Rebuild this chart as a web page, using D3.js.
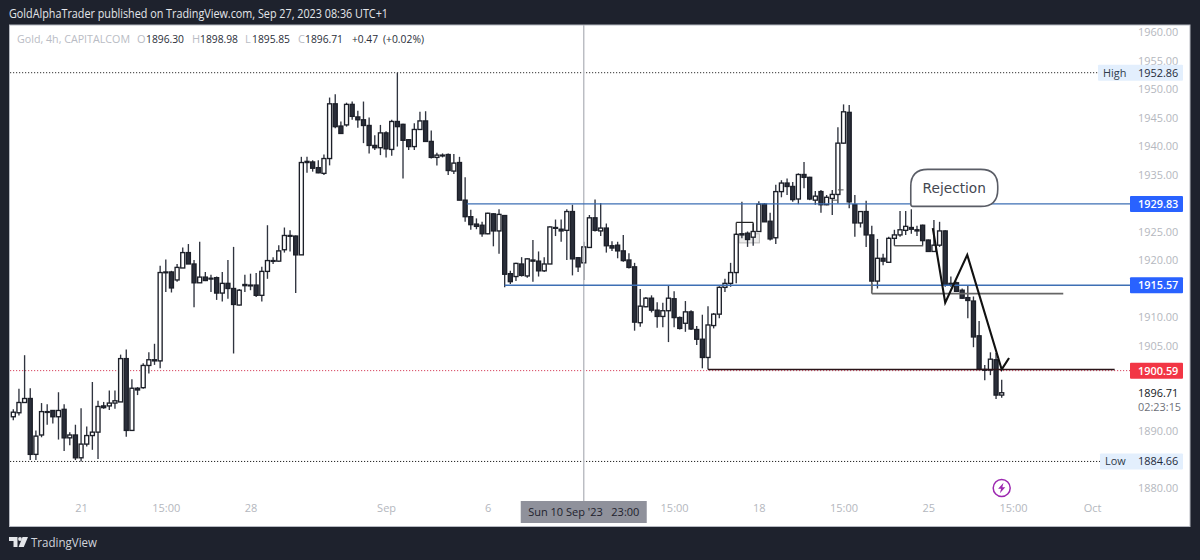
<!DOCTYPE html>
<html><head><meta charset="utf-8">
<script src="https://cdn.jsdelivr.net/npm/d3@7/dist/d3.min.js"></script>
<style>html,body{margin:0;padding:0;background:#1e222d;overflow:hidden}svg{display:block}text{font-family:"Open Sans",sans-serif}</style>
</head><body><svg id="c" width="1200" height="560"></svg>
<script>
const opens=[1892.5,1893.2,1895.0,1895.7,1885.9,1889.3,1893.4,1893.6,1892.5,1893.8,
1888.8,1889.3,1885.3,1887.7,1889.2,1889.8,1894.4,1894.4,1894.9,1895.1,
1902.7,1890.1,1897.5,1897.6,1901.5,1902.5,1902.3,1917.9,1917.9,1916.5,
1918.6,1921.3,1919.3,1916.0,1917.0,1916.8,1916.9,1914.2,1915.9,1915.0,
1912.1,1915.7,1915.6,1915.6,1913.8,1918.0,1919.9,1919.8,1921.8,1924.3,
1924.2,1920.9,1937.3,1937.2,1936.2,1935.2,1937.8,1947.4,1943.5,1943.7,
1947.3,1945.1,1944.6,1943.6,1940.1,1939.7,1942.3,1939.4,1944.3,1943.8,
1941.1,1939.9,1942.9,1944.4,1940.8,1938.0,1938.4,1938.5,1935.6,1937.1,
1930.5,1927.6,1926.3,1926.1,1924.6,1928.1,1925.1,1927.8,1917.6,1917.1,
1919.3,1917.2,1920.0,1919.8,1918.1,1919.3,1925.7,1925.4,1925.2,1928.5,
1920.4,1919.5,1922.2,1927.4,1925.1,1925.6,1922.5,1922.6,1921.6,1920.0,
1918.8,1909.0,1911.8,1913.3,1911.2,1910.1,1911.1,1913.2,1909.9,1908.9,
1910.9,1907.8,1906.1,1902.9,1908.5,1910.5,1915.2,1915.9,1917.8,1924.6,
1924.7,1924.0,1925.0,1929.8,1926.8,1923.9,1932.0,1933.5,1932.9,1930.7,
1935.0,1934.5,1930.5,1932.0,1929.7,1930.8,1931.5,1940.5,1945.9,1929.7,
1926.5,1928.5,1924.4,1916.3,1920.3,1919.6,1923.8,1924.4,1925.2,1925.7,
1925.3,1926.1,1923.5,1921.5,1922.6,1925.1,1915.9,1916.0,1914.7,1913.4,
1912.8,1906.7,1900.8,1900.7,1902.5,1896.30];
const closes=[1893.3,1895.0,1895.7,1885.9,1889.1,1893.4,1893.3,1892.5,1893.6,1888.8,
1889.3,1885.3,1887.7,1889.2,1889.8,1894.3,1894.1,1894.9,1895.3,1902.7,
1890.1,1897.5,1897.2,1901.5,1902.5,1902.3,1917.8,1917.8,1915.1,1918.7,
1921.3,1919.3,1916.0,1917.0,1916.4,1916.7,1914.2,1915.9,1915.0,1912.2,
1914.7,1915.5,1915.5,1913.8,1918.0,1919.9,1919.8,1921.6,1924.3,1924.2,
1920.9,1937.1,1937.1,1936.1,1935.3,1937.8,1947.4,1943.4,1942.2,1947.3,
1945.2,1944.6,1943.6,1940.1,1939.7,1942.3,1939.5,1944.3,1943.4,1941.0,
1939.9,1942.9,1944.4,1940.8,1938.0,1938.4,1938.3,1935.7,1937.0,1930.5,
1927.6,1926.2,1925.9,1924.6,1928.2,1925.1,1928.0,1917.5,1916.2,1919.4,
1917.3,1920.2,1919.8,1918.1,1919.3,1925.8,1925.6,1925.1,1928.5,1920.2,
1918.8,1922.3,1927.4,1925.2,1925.6,1922.5,1922.1,1921.6,1919.9,1918.7,
1909.1,1911.9,1913.3,1911.2,1910.1,1911.1,1913.3,1909.9,1908.0,1910.9,
1907.9,1906.1,1902.9,1908.6,1910.5,1915.2,1915.9,1917.8,1924.5,1924.4,
1923.6,1925.0,1929.8,1926.7,1923.7,1932.0,1933.5,1932.9,1930.6,1935.0,
1934.5,1930.7,1931.2,1929.7,1931.0,1931.5,1940.5,1946.0,1930.2,1926.5,
1928.5,1924.4,1916.3,1920.3,1919.8,1923.8,1924.4,1925.3,1925.9,1925.4,
1925.1,1923.4,1921.5,1922.6,1925.1,1915.6,1915.6,1914.5,1913.3,1912.9,
1906.5,1900.8,1900.7,1902.6,1896.3,1896.71];
const highs=[1893.8,1897.4,1903.3,1897.5,1890.1,1894.9,1894.7,1893.6,1896.8,1894.7,
1889.8,1891.1,1894.0,1890.8,1898.6,1895.3,1895.1,1897.1,1897.1,1903.4,
1904.3,1899.1,1897.7,1901.9,1903.8,1905.3,1919.0,1920.1,1918.1,1919.3,
1922.2,1922.8,1920.0,1923.2,1917.9,1917.4,1917.1,1917.9,1920.0,1922.3,
1914.9,1917.4,1917.6,1917.7,1918.8,1926.1,1920.5,1922.6,1925.7,1925.2,
1924.3,1938.1,1938.1,1937.5,1937.5,1938.5,1948.5,1949.1,1944.3,1947.6,
1947.8,1946.2,1947.8,1945.0,1941.9,1943.7,1942.6,1944.6,1952.86,1943.9,
1941.2,1944.0,1946.0,1946.1,1942.7,1938.8,1938.7,1938.7,1938.6,1938.1,
1934.5,1928.8,1927.3,1926.7,1928.3,1928.2,1928.9,1927.9,1918.1,1919.5,
1920.5,1920.3,1923.5,1921.5,1920.5,1925.9,1927.1,1927.1,1928.9,1929.7,
1920.5,1923.2,1927.9,1930.6,1930.0,1926.4,1923.3,1923.2,1924.4,1921.2,
1919.5,1914.9,1913.5,1913.8,1912.6,1912.5,1915.6,1914.5,1910.1,1912.8,
1911.2,1908.4,1910.4,1911.9,1910.7,1915.4,1916.7,1919.5,1924.7,1930.2,
1925.0,1926.4,1930.3,1930.0,1928.3,1933.2,1934.0,1934.3,1933.7,1935.2,
1937.2,1934.6,1932.1,1932.3,1931.4,1932.3,1943.3,1947.3,1947.2,1931.4,
1928.6,1930.4,1926.0,1923.7,1921.1,1924.1,1925.3,1928.6,1928.6,1928.9,
1926.0,1926.2,1923.6,1927.0,1926.7,1925.2,1917.1,1916.2,1915.0,1915.5,
1913.6,1909.3,1901.6,1903.8,1903.7,1898.98];
const lows=[1891.9,1892.7,1895.0,1884.9,1884.9,1888.9,1891.1,1891.3,1888.5,1886.5,
1887.5,1884.9,1884.66,1887.3,1886.7,1885.1,1893.9,1893.7,1893.9,1895.1,
1889.0,1890.1,1896.3,1897.4,1900.1,1901.6,1901.0,1914.4,1914.3,1916.2,
1918.6,1919.3,1911.7,1916.0,1916.3,1914.4,1913.0,1912.7,1913.2,1903.6,
1912.0,1914.4,1914.7,1913.5,1912.7,1916.7,1919.3,1919.7,1921.3,1921.5,
1914.2,1920.9,1935.3,1935.5,1935.2,1934.9,1936.6,1943.1,1942.1,1943.4,
1944.6,1943.2,1940.5,1938.7,1939.3,1938.4,1938.0,1938.3,1939.9,1934.3,
1939.3,1939.3,1942.9,1940.8,1937.8,1936.6,1938.0,1934.9,1935.1,1930.5,
1926.7,1925.3,1925.4,1924.1,1924.5,1922.4,1921.1,1915.2,1915.8,1916.3,
1917.1,1916.9,1916.2,1917.1,1917.9,1919.3,1924.2,1923.2,1920.0,1917.3,
1917.9,1916.5,1922.1,1925.0,1924.2,1921.3,1921.6,1920.3,1919.7,1918.5,
1907.6,1908.3,1911.7,1910.8,1908.1,1908.2,1905.6,1908.2,1907.8,1907.4,
1907.7,1905.1,1901.0,1900.8,1908.0,1909.8,1914.4,1915.3,1915.9,1923.8,
1922.3,1922.5,1925.0,1926.7,1923.4,1922.8,1931.0,1931.4,1930.2,1929.8,
1932.6,1930.5,1929.7,1928.3,1929.6,1927.9,1929.9,1940.4,1929.1,1924.1,
1925.7,1922.3,1914.7,1915.0,1919.1,1919.5,1922.5,1924.1,1924.4,1924.6,
1924.2,1922.6,1921.4,1921.4,1922.3,1915.3,1915.3,1914.4,1913.2,1909.8,
1904.7,1900.7,1898.9,1899.8,1895.6,1895.85];

const priceTicks=[1880,1890,1905,1910,1920,1925,1935,1940,1945,1950,1955,1960];
const timeTicks=[12,27,42,66,84,117,132,147,162,177,191];
const timeLabels=["21","15:00","28","Sep","6","15:00","18","15:00","25","15:00","Oct"];
const cursorIndex=101, cursorLabel="Sun 10 Sep '23   23:00";
const highPrice=1952.86, lowPrice=1884.66, redPrice=1900.59, lastPrice=1896.71;
const blueLines=[[80.3,1929.83],[87,1915.57]];
const zigzagIdx=[162.8,165,168.9,175,176.3], zigzagPrice=[1925.6,1912.5,1920.9,1900.8,1902.8];
const segments=[ // [i0,p0,i1,p1,colour,width]
 [123,1900.8,195,1900.8,"#2a1418",1.5],
 [152,1916.0,152,1914.1,"#666",1.7],
 [152,1914.1,185.9,1914.1,"#666",1.7],
 [156,1922.5,161.1,1922.5,"#555",1.4],
 [145,1930.5,146,1930.5,"#555",1.0],
 [146,1932.3,147,1932.3,"#555",1.0],
 [128,1924.5,128,1926.6,"#222",1.2],
 [128,1926.6,131,1926.6,"#222",1.2],
 [131,1926.6,131,1924.9,"#222",1.2]];

const svg=d3.select("#c");
const x=d3.scaleLinear().domain([0,175]).range([13.3,1001.7]);
const y=d3.scaleLinear().domain([1880,1960]).range([488,32]);
const AX=1130, AR=1183;

// frame
svg.append("rect").attr("x",9.5).attr("y",25).attr("width",1180.5).attr("height",501.5)
  .attr("fill","#fff").attr("stroke","#b6b9c1").attr("stroke-width",1);

// header
const hdr=(t,xp,yp,fill,size,len)=>{
  const n=svg.append("text").attr("x",xp).attr("y",yp).attr("fill",fill).attr("font-size",size).text(t);
  if(len) n.attr("textLength",len).attr("lengthAdjust","spacingAndGlyphs");
  return n;
};
hdr("GoldAlphaTrader published on TradingView.com, Sep 27, 2023 08:36 UTC+1",9,18,"#e4e6ea",11.8,379);
const G="#b9bcc4",K="#2a2e39";
hdr("Gold, 4h, CAPITALCOM",17,43,G,11,113);
[["O",137,G,0],["1896.30",146,K,38],["H",192,G,0],["1898.98",200,K,38],["L",245,G,0],["1895.85",252,K,38],["C",298,G,0],["1896.71",305,K,38],["+0.47",352,K,26],["(+0.02%)",383,K,41]]
 .forEach(d=>hdr(d[0],d[1],43,d[2],11,d[3]||null));

// grey note box
svg.append("rect").attr("x",x(128.5)).attr("y",y(1924.6)).attr("width",x(132.1)-x(128.5)).attr("height",y(1923)-y(1924.6))
 .attr("fill","#ececec").attr("stroke","#bbb").attr("stroke-width",1);

// dotted lines
const dotted=(p,x1,col)=>svg.append("line").attr("x1",10).attr("x2",x1).attr("y1",y(p)).attr("y2",y(p))
  .attr("stroke",col).attr("stroke-width",1).attr("stroke-dasharray","1.2 1.8");
dotted(highPrice,1098,"#333");
dotted(lowPrice,1100,"#222");
dotted(redPrice,AX,"#d6455f");

// candles
const idx=d3.range(opens.length);
svg.append("g").selectAll("line").data(idx).join("line")
 .attr("x1",x).attr("x2",x).attr("y1",i=>y(highs[i])).attr("y2",i=>y(lows[i]))
 .attr("stroke","#30343f").attr("stroke-width",1.35);
svg.append("g").selectAll("rect").data(idx).join("rect")
 .attr("x",i=>x(i)-2).attr("width",4)
 .attr("y",i=>y(Math.max(opens[i],closes[i])))
 .attr("height",i=>Math.max(Math.abs(y(opens[i])-y(closes[i])),0.8))
 .attr("fill",i=>closes[i]>=opens[i]?"#fff":"#2a2e39")
 .attr("stroke","#1c1f28").attr("stroke-width",1.35);

// crosshair
svg.append("line").attr("x1",x(cursorIndex)).attr("x2",x(cursorIndex)).attr("y1",25).attr("y2",501)
 .attr("stroke","#b8bac0").attr("stroke-width",1.4);

// drawings
blueLines.forEach(d=>svg.append("line").attr("x1",x(d[0])).attr("x2",AX).attr("y1",y(d[1])).attr("y2",y(d[1]))
 .attr("stroke","#3d6fb4").attr("stroke-width",1.3));
segments.forEach(s=>svg.append("line").attr("x1",x(s[0])).attr("x2",x(s[2])).attr("y1",y(s[1])).attr("y2",y(s[3]))
 .attr("stroke",s[4]).attr("stroke-width",s[5]));
svg.append("path").attr("fill","none").attr("stroke","#111").attr("stroke-width",2.1).attr("stroke-linejoin","miter")
 .attr("d",d3.line().x(i=>x(zigzagIdx[i])).y(i=>y(zigzagPrice[i]))(d3.range(zigzagIdx.length)));

// callout
const cx0=x(158.9),cx1=x(174.3),cy0=y(1935.9),cy1=y(1929.4),r=17;
svg.append("path").attr("fill","#fff").attr("stroke","#5a5d66").attr("stroke-width",1.6)
 .attr("d",`M${cx0+2},${cy1}Q${cx0},${cy1} ${cx0},${cy1-3}L${cx0},${cy0+r}Q${cx0},${cy0} ${cx0+r},${cy0}L${cx1-r},${cy0}Q${cx1},${cy0} ${cx1},${cy0+r}L${cx1},${cy1-r}Q${cx1},${cy1} ${cx1-r},${cy1}Z`);
svg.append("text").attr("x",(cx0+cx1)/2).attr("y",(cy0+cy1)/2+5).attr("text-anchor","middle")
 .attr("fill","#44474f").attr("font-size",13.7).style("font-family","'DejaVu Sans',sans-serif").text("Rejection");

// axes
const yAxis=d3.axisRight(y).tickValues(priceTicks).tickSize(0).tickPadding(0).tickFormat(d3.format(".2f"));
const gy=svg.append("g").attr("transform","translate(1138,0)").call(yAxis);
gy.select(".domain").remove();
gy.selectAll("text").attr("fill","#b4b7be").attr("font-size",10.9).style("font-family",'"Open Sans",sans-serif');
const xAxis=d3.axisBottom(x).tickValues(timeTicks).tickSize(0).tickPadding(0).tickFormat((d,i)=>timeLabels[i]);
const gx=svg.append("g").attr("transform","translate(0,504)").call(xAxis);
gx.select(".domain").remove();
gx.selectAll("text").attr("fill","#b4b7be").attr("font-size",11).style("font-family",'"Open Sans",sans-serif');

// price labels
const label=(p,x0,fill,tf,t,weight)=>{
 const yy=y(p);
 svg.append("rect").attr("x",x0).attr("y",yy-8).attr("width",AR-x0).attr("height",16).attr("fill",fill).attr("rx",1);
 svg.append("text").attr("x",1138).attr("y",yy+4).attr("fill",tf).attr("font-size",10.9).attr("font-weight",weight||400).text(t);
};
const fmt=d3.format(".2f");
label(blueLines[0][1],AX,"#2962ff","#fff",fmt(blueLines[0][1]),600);
label(blueLines[1][1],AX,"#2962ff","#fff",fmt(blueLines[1][1]),600);
label(redPrice,AX,"#f23645","#fff",fmt(redPrice),600);
label(highPrice,1098,"#e3effd","#1e2a3a",fmt(highPrice));
label(lowPrice,1100,"#e3effd","#1e2a3a",fmt(lowPrice));
svg.append("text").attr("x",1103).attr("y",y(highPrice)+4).attr("fill","#2f3b4b").attr("font-size",10.9).text("High");
svg.append("text").attr("x",1105).attr("y",y(lowPrice)+4).attr("fill","#2f3b4b").attr("font-size",10.9).text("Low");
svg.append("text").attr("x",1138).attr("y",y(lastPrice)+4).attr("fill","#131722").attr("font-size",10.9).text(fmt(lastPrice));
svg.append("text").attr("x",1138).attr("y",y(lastPrice)+18).attr("fill","#6d7079").attr("font-size",10.9).text("02:23:15");

// crosshair time label
const lx=x(cursorIndex);
svg.append("rect").attr("x",lx-63).attr("y",501).attr("width",126).attr("height",22).attr("fill","#8f919b");
svg.append("text").attr("x",lx).attr("y",516).attr("text-anchor","middle").attr("fill","#1e222d").attr("font-size",11).style("white-space","pre").text(cursorLabel);

// event marker
const ex=x(175),ey=y(1880);
svg.append("circle").attr("cx",ex).attr("cy",ey).attr("r",8.5).attr("fill","#fff").attr("stroke","#9c27b0").attr("stroke-width",1.5);
svg.append("path").attr("transform",`translate(${ex},${ey})`).attr("fill","#9c27b0")
 .attr("d","M1.8,-5.2L-3.6,0.8L-0.6,0.8L-1.8,5.2L3.6,-0.8L0.6,-0.8Z");

// footer
svg.append("path").attr("fill","#e4e6ea").attr("d","M9,537H17.5V547H13.5V541H9Z");
svg.append("circle").attr("cx",20).attr("cy",539).attr("r",1.9).attr("fill","#e4e6ea");
svg.append("path").attr("fill","#e4e6ea").attr("d","M22.5,537H28L23.8,547H18.6Z");
svg.append("text").attr("x",31).attr("y",547).attr("fill","#d1d4dc").attr("font-size",12.6).attr("textLength",66).attr("lengthAdjust","spacingAndGlyphs").text("TradingView");
</script></body></html>
